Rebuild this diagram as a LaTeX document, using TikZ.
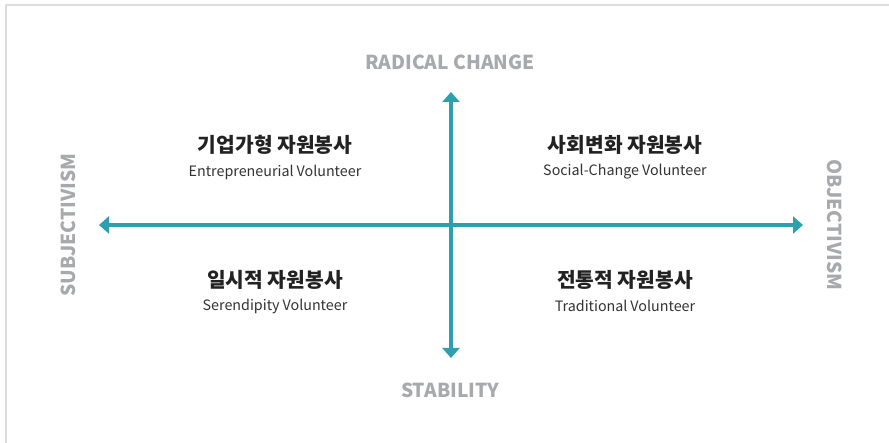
\documentclass[tikz,border=0pt]{standalone}
\usepackage{fontspec}
\setmainfont{Noto Sans CJK KR}
\usetikzlibrary{arrows.meta}
\definecolor{axisteal}{HTML}{2E9FAF}
\definecolor{axisgray}{HTML}{A7A9AC}
\definecolor{titledark}{HTML}{222222}
\definecolor{subtext}{HTML}{333333}
\definecolor{framegray}{HTML}{DDDDDD}
% subtitle font with tight word spacing
\newcommand\subtitlefont{\fontsize{14.3}{14.3}\selectfont\spaceskip 3pt\relax}
\begin{document}
\begin{tikzpicture}[x=1pt,y=-1pt,
  axisline/.style={line width=4pt, draw=axisteal,
    -{Triangle[width=17pt,length=10pt]}},
  axislabel/.style={font=\bfseries\fontsize{19.2}{19.2}\selectfont, text=axisgray, inner sep=0pt},
  quadtitle/.style={font=\bfseries\fontsize{20.3}{20.3}\selectfont, text=titledark, inner sep=0pt},
  quadsub/.style={font=\subtitlefont, text=subtext, inner sep=0pt}
]
\useasboundingbox (0,0) rectangle (889,443);
\fill[white] (0,0) rectangle (889,443);
% thin frame along the top and left edges
\draw[framegray, line width=1.5pt] (6,443) -- (6,5) -- (889,5);

% axes
\coordinate (c) at (451,225);
\coordinate (top) at (451,92);
\coordinate (bot) at (451,358);
\coordinate (lft) at (99,225);
\coordinate (rgt) at (803,225);
\draw[axisline] (c) -- (top);
\draw[axisline] (c) -- (bot);
\draw[axisline] (c) -- (lft);
\draw[axisline] (c) -- (rgt);

% axis labels
\node[axislabel] (radical) at (450,62) {RADICAL CHANGE};
\node[axislabel] (stability) at (450,390) {STABILITY};
\node[axislabel, rotate=90] (subj) at (68,225) {SUBJECTIVISM};
\node[axislabel, rotate=-90] (obj) at (835,225) {OBJECTIVISM};

% quadrant titles
\node[quadtitle] (q1t) at (275,145) {기업가형 자원봉사};
\node[quadsub] (q1s) at (275,172) {Entrepreneurial Volunteer};
\node[quadtitle] (q2t) at (625,145) {사회변화 자원봉사};
\node[quadsub] (q2s) at (625,172) {Social-Change Volunteer};
\node[quadtitle] (q3t) at (275,280) {일시적 자원봉사};
\node[quadsub] (q3s) at (275,306) {Serendipity Volunteer};
\node[quadtitle] (q4t) at (625,280) {전통적 자원봉사};
\node[quadsub] (q4s) at (625,306) {Traditional Volunteer};
\end{tikzpicture}
\end{document}
